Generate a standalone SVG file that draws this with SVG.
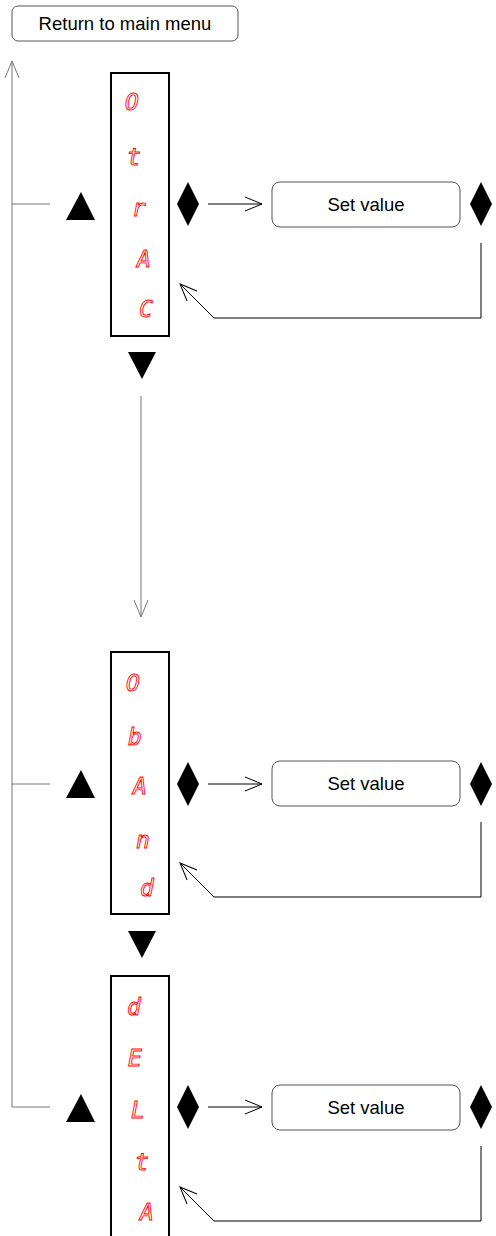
<svg xmlns="http://www.w3.org/2000/svg" width="496" height="1236" viewBox="0 0 496 1236">
<style>
.box{fill:#fff;stroke:#555;stroke-width:1}
.lbl{font-family:"Liberation Sans",Arial,sans-serif;font-size:18.5px;fill:#000;text-anchor:middle;dominant-baseline:central}
.panel{fill:#fff;stroke:#000;stroke-width:2}
.seg{font-family:"DejaVu Sans Mono",monospace;font-style:oblique;font-size:23px;fill:none;stroke:#f00;stroke-width:0.9;text-anchor:middle;dominant-baseline:central}
.tri{fill:#000}
.ln{fill:none;stroke:#000;stroke-width:1}
.lg{fill:none;stroke:#777;stroke-width:1}
</style>
<defs>
<marker id="ah" viewBox="0 0 20 20" refX="19" refY="10" markerWidth="20" markerHeight="20" markerUnits="userSpaceOnUse" orient="auto">
<path d="M2,3 L19,10 L2,17" fill="none" stroke="#000" stroke-width="1"/>
</marker>
<marker id="ahg" viewBox="0 0 20 20" refX="19" refY="10" markerWidth="20" markerHeight="20" markerUnits="userSpaceOnUse" orient="auto">
<path d="M2,3 L19,10 L2,17" fill="none" stroke="#777" stroke-width="1"/>
</marker>
</defs>
<g id="connectors">
<path class="lg" d="M12,1107 L12,61" marker-end="url(#ahg)"/>
<path class="lg" d="M12,204 L50,204"/>
<path class="lg" d="M12,784 L50,784"/>
<path class="lg" d="M12,1107 L50,1107"/>
<path class="lg" d="M141,396 L141,617" marker-end="url(#ahg)"/>
<path class="ln" d="M208,204 L262,204" marker-end="url(#ah)"/>
<path class="ln" d="M481,243 L481,318 L214,318 L180,284" marker-end="url(#ah)"/>
<path class="ln" d="M208,784 L262,784" marker-end="url(#ah)"/>
<path class="ln" d="M481,822 L481,897 L214,897 L180,863" marker-end="url(#ah)"/>
<path class="ln" d="M208,1107 L262,1107" marker-end="url(#ah)"/>
<path class="ln" d="M481,1146 L481,1221 L214,1221 L180,1187" marker-end="url(#ah)"/>
</g>
<g id="return">
<rect class="box" x="12" y="6" width="226" height="35" rx="6"/>
<text class="lbl" x="125" y="23">Return to main menu</text>
</g>
<g id="panel1">
<rect class="panel" x="111" y="73" width="58" height="263"/>
<text class="seg" x="132" y="102">O</text>
<text class="seg" x="134" y="157">t</text>
<text class="seg" x="139" y="208">r</text>
<text class="seg" x="144" y="259">A</text>
<text class="seg" x="146" y="309">C</text>
</g>
<g id="panel2">
<rect class="panel" x="111" y="652" width="58" height="262"/>
<text class="seg" x="133" y="683">O</text>
<text class="seg" x="135" y="737">b</text>
<text class="seg" x="140" y="786">A</text>
<text class="seg" x="143" y="840">n</text>
<text class="seg" x="147" y="888">d</text>
</g>
<g id="panel3">
<rect class="panel" x="111" y="976" width="58" height="270"/>
<text class="seg" x="134" y="1007">d</text>
<text class="seg" x="135" y="1058">E</text>
<text class="seg" x="138" y="1110">L</text>
<text class="seg" x="142" y="1162">t</text>
<text class="seg" x="147" y="1212">A</text>
</g>
<g id="up1"><path class="tri" d="M81,192 L95,220 L66,220 Z"/></g>
<g id="up2"><path class="tri" d="M81,770 L95,798 L66,798 Z"/></g>
<g id="up3"><path class="tri" d="M81,1094 L95,1122 L66,1122 Z"/></g>
<g id="down1"><path class="tri" d="M128,352 L156,352 L142,379 Z"/></g>
<g id="down2"><path class="tri" d="M128,931 L156,931 L142,958 Z"/></g>
<g id="dia1"><path class="tri" d="M188,182 L199,204 L188,226 L177,204 Z"/><path class="tri" d="M481,182 L492,204 L481,226 L470,204 Z"/></g>
<g id="dia2"><path class="tri" d="M188,762 L199,784 L188,806 L177,784 Z"/><path class="tri" d="M481,762 L492,784 L481,806 L470,784 Z"/></g>
<g id="dia3"><path class="tri" d="M188,1085 L199,1107 L188,1129 L177,1107 Z"/><path class="tri" d="M481,1085 L492,1107 L481,1129 L470,1107 Z"/></g>
<g id="set1"><rect class="box" x="272" y="182" width="188" height="45" rx="8"/><text class="lbl" x="366" y="204">Set value</text></g>
<g id="set2"><rect class="box" x="272" y="761" width="188" height="45" rx="8"/><text class="lbl" x="366" y="783">Set value</text></g>
<g id="set3"><rect class="box" x="272" y="1085" width="188" height="45" rx="8"/><text class="lbl" x="366" y="1107">Set value</text></g>
</svg>
